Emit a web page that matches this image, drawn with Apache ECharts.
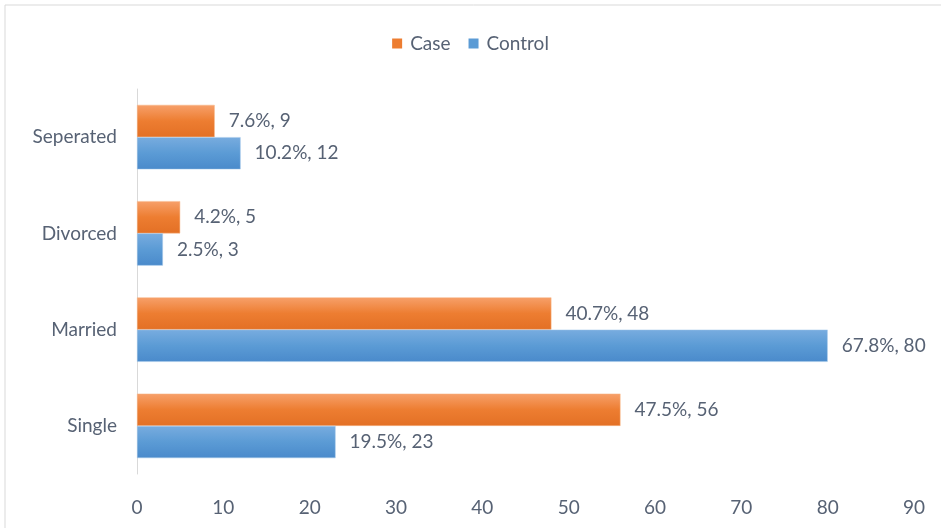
<!DOCTYPE html>
<html>
<head>
<meta charset="utf-8">
<script src="https://cdn.jsdelivr.net/npm/echarts@6/dist/echarts.min.js"></script>
<style>html,body{margin:0;padding:0;background:#fff}#c{width:941px;height:528px}</style>
</head>
<body>
<div id="c"></div>
<script>
const categories = ['Single', 'Married', 'Divorced', 'Seperated'];
const caseValues = [56, 48, 5, 9];
const casePct = ['47.5%', '40.7%', '4.2%', '7.6%'];
const controlValues = [23, 80, 3, 12];
const controlPct = ['19.5%', '67.8%', '2.5%', '10.2%'];
const xTicks = [0, 10, 20, 30, 40, 50, 60, 70, 80, 90];

const textColor = '#576274';
const font = 'Lato, "Open Sans", sans-serif';

const chart = echarts.init(document.getElementById('c'));
function grad(top, mid, bot) {
  return new echarts.graphic.LinearGradient(0, 0, 0, 1, [
    {offset: 0, color: top}, {offset: 0.5, color: mid}, {offset: 1, color: bot}
  ]);
}
chart.setOption({
  animation: false,
  graphic: [{
    type: 'rect', shape: {x: 5, y: 5, width: 2000, height: 2000},
    style: {fill: 'none', stroke: '#d9d9d9', lineWidth: 1}, silent: true
  }],
  legend: {
    data: [
      {name: 'Case', itemStyle: {color: '#ed7d31', borderWidth: 0}},
      {name: 'Control', itemStyle: {color: '#5b9bd5', borderWidth: 0}}
    ],
    top: 29, left: 'center',
    itemWidth: 10, itemHeight: 10, itemGap: 18,
    icon: 'rect',
    textStyle: {color: textColor, fontSize: 19, fontFamily: font, padding: [0, 0, 0, 3]}
  },
  grid: {left: 137, right: 27, top: 89, bottom: 54, containLabel: false},
  xAxis: {
    type: 'value', min: xTicks[0], max: xTicks[xTicks.length - 1], interval: 10,
    axisLine: {show: false}, axisTick: {show: false}, splitLine: {show: false},
    axisLabel: {color: textColor, fontSize: 19, fontFamily: font, margin: 24}
  },
  yAxis: {
    type: 'category', data: categories,
    axisLine: {show: true, lineStyle: {color: '#d9d9d9', width: 1}},
    axisTick: {show: false},
    axisLabel: {color: textColor, fontSize: 19, fontFamily: font, margin: 20}
  },
  series: [
    {
      name: 'Case', type: 'bar', data: caseValues,
      barGap: '0%', barCategoryGap: '33%',
      itemStyle: {color: grad('#f7a06a', '#ed7d31', '#e37025'), borderColor: '#f8b98b', borderWidth: 0.5},
      label: {show: true, position: 'right', distance: 14, color: textColor, fontSize: 19, fontFamily: font,
        formatter: p => casePct[p.dataIndex] + ', ' + p.value}
    },
    {
      name: 'Control', type: 'bar', data: controlValues,
      barGap: '0%', barCategoryGap: '33%',
      itemStyle: {color: grad('#78acdf', '#5b9bd5', '#4a8acb'), borderColor: '#a9cbeb', borderWidth: 0.5},
      label: {show: true, position: 'right', distance: 14, color: textColor, fontSize: 19, fontFamily: font,
        formatter: p => controlPct[p.dataIndex] + ', ' + p.value}
    }
  ]
});
</script>
</body>
</html>
